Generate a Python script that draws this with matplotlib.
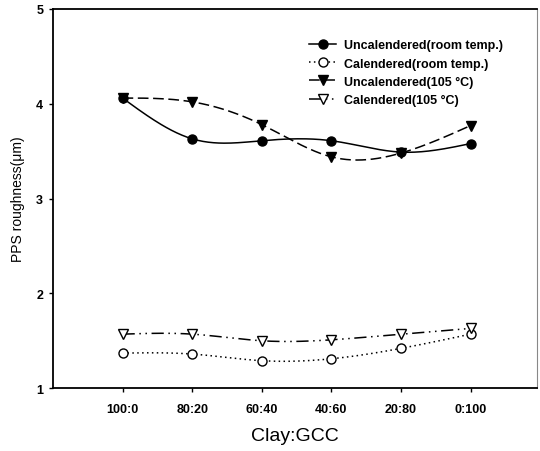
import numpy as np
import matplotlib
matplotlib.use("Agg")
import matplotlib.pyplot as plt
from matplotlib.lines import Line2D

categories = ["100:0", "80:20", "60:40", "40:60", "20:80", "0:100"]
uncal_room = [4.06, 3.63, 3.61, 3.61, 3.49, 3.58]
cal_room = [1.37, 1.36, 1.29, 1.31, 1.42, 1.57]
uncal_105 = [4.06, 4.02, 3.78, 3.44, 3.48, 3.77]
cal_105 = [1.57, 1.57, 1.50, 1.51, 1.57, 1.63]
labels = ["Uncalendered(room temp.)", "Calendered(room temp.)",
          "Uncalendered(105 \u00b0C)", "Calendered(105 \u00b0C)"]

plt.rcParams['font.family'] = ['Liberation Sans', 'DejaVu Sans']


def natural_spline(x, y, n=200):
    x = np.asarray(x, float)
    y = np.asarray(y, float)
    k = len(x)
    h = np.diff(x)
    A = np.zeros((k, k))
    b = np.zeros(k)
    A[0, 0] = 1
    A[-1, -1] = 1
    for i in range(1, k - 1):
        A[i, i - 1] = h[i - 1]
        A[i, i] = 2 * (h[i - 1] + h[i])
        A[i, i + 1] = h[i]
        b[i] = 3 * ((y[i + 1] - y[i]) / h[i] - (y[i] - y[i - 1]) / h[i - 1])
    c = np.linalg.solve(A, b)
    xs = np.linspace(x[0], x[-1], n)
    ys = np.empty_like(xs)
    for j, xv in enumerate(xs):
        i = min(np.searchsorted(x, xv, side='right') - 1, k - 2)
        dx = xv - x[i]
        bi = (y[i + 1] - y[i]) / h[i] - h[i] * (2 * c[i] + c[i + 1]) / 3
        di = (c[i + 1] - c[i]) / (3 * h[i])
        ys[j] = y[i] + bi * dx + c[i] * dx ** 2 + di * dx ** 3
    return xs, ys


fig = plt.figure(figsize=(5.4, 4.52), dpi=100)
ax = fig.add_axes([0.098, 0.139, 0.896, 0.839])

x = np.arange(len(categories))
series = [
    (uncal_room, '-', 'o', 'black', 5),
    (cal_room, (0, (1, 2.2)), 'o', 'white', 3),
    (uncal_105, (0, (7, 3)), 'v', 'black', 4),
    (cal_105, (0, (8, 3, 1, 3, 1, 3)), 'v', 'white', 3),
]
handles = []
for (vals, ls, mk, fc, zo), lab in zip(series, labels):
    xs, ys = natural_spline(x, vals)
    ax.plot(xs, ys, color='black', lw=1.1, ls=ls, zorder=2)
    ax.plot(x, vals, ls='none', marker=mk, ms=6.5, mfc=fc, mec='black',
            mew=1.0, zorder=zo)
    handles.append(Line2D([], [], color='black', lw=1.1, ls=ls, marker=mk,
                          ms=6.5, mfc=fc, mec='black', mew=1.0))

ax.set_xlim(-1, 5.95)
ax.set_ylim(1, 5)
ax.set_xticks(x)
ax.set_xticklabels(categories, fontsize=9, fontweight='bold')
ax.set_yticks([1, 2, 3, 4, 5])
ax.set_yticklabels(['1', '2', '3', '4', '5'], fontsize=9, fontweight='bold')
ax.tick_params(direction='out', length=3, width=1, pad=8)
ax.tick_params(axis='y', pad=4)
for s in ['left', 'bottom', 'top']:
    ax.spines[s].set_linewidth(1.3)
ax.spines['right'].set_linewidth(0.8)
ax.spines['right'].set_color('#888888')

ax.set_xlabel("Clay:GCC", fontsize=14, labelpad=8)
ax.set_ylabel("PPS roughness(\u03bcm)", fontsize=10, labelpad=8)

leg = ax.legend(handles, labels, loc='upper right', bbox_to_anchor=(0.93, 0.92),
                frameon=False, prop={'size': 9, 'weight': 'bold'},
                borderpad=0, borderaxespad=0,
                handlelength=2.2, handletextpad=0.6, labelspacing=0.5)

fig.savefig("out.png", dpi=100)
